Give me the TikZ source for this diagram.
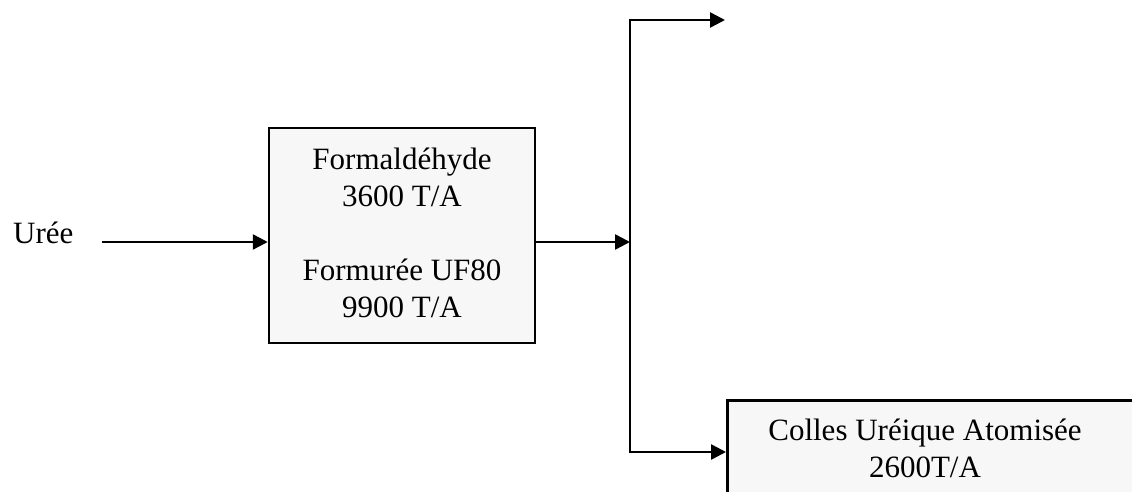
\documentclass[tikz,border=0pt]{standalone}
\usepackage{fontspec}
\setmainfont{Liberation Serif}
\usetikzlibrary{arrows.meta}
\definecolor{boxfill}{HTML}{F7F7F7}
\tikzset{
  procbox/.style={draw=black, fill=boxfill, line width=2.5pt, inner sep=0pt},
  flow/.style={line width=2.5pt, -{Triangle[length=15pt,width=15pt]}},
  lbl/.style={font=\fontsize{31}{37}\selectfont, inner sep=0pt, align=center}
}
\begin{document}
\begin{tikzpicture}[x=1pt,y=-1pt]
\useasboundingbox (0,0) rectangle (1132,492);
\clip (0,0) rectangle (1132,492);
% main box
\node[procbox, minimum width=266pt, minimum height=215pt] (main) at (402,235.5) {};
\node[lbl] (maintext) at (402,232.5)
  {Formaldéhyde\\3600 T/A\\[37pt]Formurée UF80\\9900 T/A};
% bottom box (runs off the page)
\node[procbox, anchor=north west, minimum width=460pt, minimum height=106pt] (colbox) at (726,399) {};
\node[lbl] (colles) at (925,448) {Colles Uréique Atomisée\\2600T/A};
% input label
\node[lbl, anchor=base west] (uree) at (13,243) {Urée};
% coordinates
\coordinate (urin) at (102,242);
\coordinate (jmid) at (630,242);
\coordinate (jtop) at (630,20);
\coordinate (jbot) at (630,452);
\coordinate (outtop) at (725,20);
% connectors
\draw[flow] (urin) -- (urin -| main.west);
\draw[flow] (main.east |- jmid) -- (jmid);
\draw[flow] (jmid) -- (jtop) -- (outtop);
\draw[flow] (jmid) -- (jbot) -- (colbox.west |- jbot);
\end{tikzpicture}
\end{document}
